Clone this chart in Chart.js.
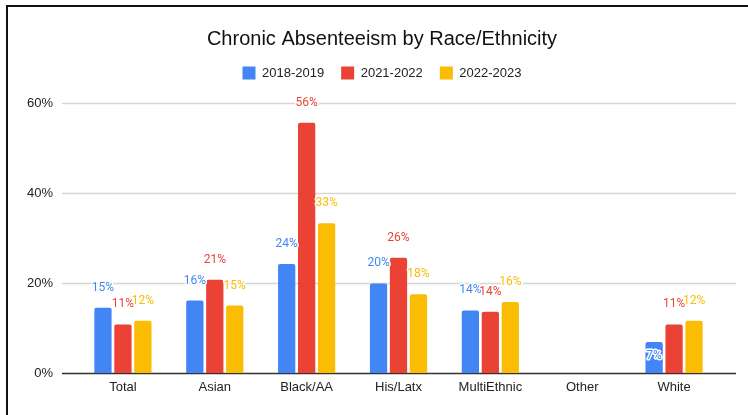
<!DOCTYPE html>
<html>
<head>
<meta charset="utf-8">
<script src="https://cdn.jsdelivr.net/npm/chart.js@4"></script>
<style>
  html, body { margin: 0; padding: 0; background: #fff; overflow: hidden; }
  #wrap { position: relative; width: 748px; height: 415px; }
  #frame { position: absolute; left: 6px; top: 5px; width: 760px; height: 430px;
           border-top: 2px solid #111; border-left: 2px solid #111; pointer-events: none; }
</style>
</head>
<body>
<div id="wrap">
  <canvas id="absenceChart" width="748" height="415"></canvas>
  <div id="frame"></div>
</div>
<script>
const categories = ['Total', 'Asian', 'Black/AA', 'His/Latx', 'MultiEthnic', 'Other', 'White'];
const seriesNames = ['2018-2019', '2021-2022', '2022-2023'];
const values1819 = [14.5, 16.1, 24.2, 19.9, 13.9, null, 6.9];
const values2122 = [10.8, 20.7, 55.6, 25.6, 13.6, null, 10.8];
const values2223 = [11.6, 15.0, 33.3, 17.5, 15.8, null, 11.6];
const yTicks = [0, 20, 40, 60];

const colors = ['#4285F4', '#EA4335', '#FBBC04'];
const fontFamily = "'Liberation Sans', Arial, sans-serif";

// google-style grid: lines run a bit past the category band,
// tick labels drawn here too so they aren't clipped by the narrow axis box
const gridPlugin = {
  id: 'gridPlugin',
  beforeDatasetsDraw(chart) {
    const { ctx, chartArea, scales } = chart;
    const x0 = chartArea.left - 15;
    const x1 = chartArea.right + 16;
    ctx.save();
    yTicks.forEach(v => {
      const y = Math.round(scales.y.getPixelForValue(v)) + 0.5;
      ctx.beginPath();
      ctx.moveTo(x0, y);
      ctx.lineTo(x1, y);
      ctx.strokeStyle = v === 0 ? '#333' : '#d6d6d6';
      ctx.lineWidth = v === 0 ? 1.6 : 1.3;
      ctx.stroke();

      ctx.font = '13px ' + fontFamily;
      ctx.fillStyle = '#222';
      ctx.textAlign = 'right';
      ctx.textBaseline = 'middle';
      ctx.fillText(v + '%', chartArea.left - 24, y);
    });
    ctx.restore();
  }
};

// value labels above each bar, white halo
const labelPlugin = {
  id: 'labelPlugin',
  afterDatasetsDraw(chart) {
    const { ctx } = chart;
    ctx.save();
    ctx.font = "12px Roboto, 'Liberation Sans', Arial, sans-serif";
    ctx.textAlign = 'center';
    ctx.textBaseline = 'middle';
    ctx.lineJoin = 'round';
    chart.data.datasets.forEach((ds, i) => {
      chart.getDatasetMeta(i).data.forEach((bar, j) => {
        const v = ds.data[j];
        if (v === null) return;
        const text = Math.round(v) + '%';
        const y = v < 8 ? bar.y + 14 : bar.y - 20;
        ctx.strokeStyle = '#fff';
        ctx.lineWidth = 3;
        ctx.strokeText(text, bar.x, y);
        ctx.fillStyle = ds.backgroundColor;
        ctx.fillText(text, bar.x, y);
      });
    });
    ctx.restore();
  }
};

// extra room between legend and plot
const legendGap = {
  id: 'legendGap',
  afterInit(chart) {
    const legend = chart.legend;
    const fit = legend.fit;
    legend.fit = function () {
      fit.call(this);
      this.height += 13.5;
    };
  }
};

new Chart(document.getElementById('absenceChart').getContext('2d'), {
  type: 'bar',
  data: {
    labels: categories,
    datasets: [
      { label: seriesNames[0], data: values1819, backgroundColor: colors[0] },
      { label: seriesNames[1], data: values2122, backgroundColor: colors[1] },
      { label: seriesNames[2], data: values2223, backgroundColor: colors[2] }
    ]
  },
  options: {
    responsive: false,
    animation: false,
    layout: { padding: { left: 44, right: 28, top: 0, bottom: 0 } },
    datasets: {
      bar: {
        categoryPercentage: 0.652,
        barPercentage: 0.865,
        borderRadius: { topLeft: 2, topRight: 2 },
        borderSkipped: 'start'
      }
    },
    plugins: {
      title: {
        display: true,
        text: 'Chronic Absenteeism by Race/Ethnicity',
        color: '#111',
        font: { family: fontFamily, size: 20, weight: 'normal', lineHeight: 1 },
        padding: { top: 29, bottom: 0.5 }
      },
      legend: {
        display: true,
        labels: {
          color: '#222',
          font: { family: fontFamily, size: 13 },
          boxWidth: 13,
          boxHeight: 13,
          padding: 17
        }
      },
      tooltip: { enabled: false }
    },
    scales: {
      x: {
        grid: { display: false, drawTicks: false },
        border: { display: false },
        ticks: { color: '#222', font: { family: fontFamily, size: 13 }, padding: 7, maxRotation: 0 },
        afterFit(scale) { scale.height = 42; }
      },
      y: {
        min: 0,
        max: 60,
        grid: { display: false, drawTicks: false },
        border: { display: false },
        ticks: { display: false },
        afterBuildTicks(scale) { scale.ticks = yTicks.map(v => ({ value: v })); },
        afterFit(scale) { scale.width = 33; }
      }
    }
  },
  plugins: [gridPlugin, labelPlugin, legendGap]
});
</script>
</body>
</html>
